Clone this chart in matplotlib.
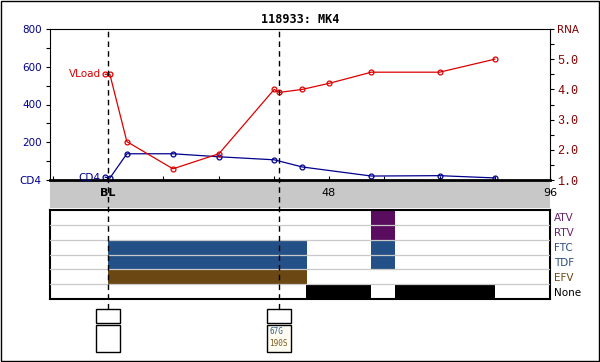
import matplotlib
import numpy as np

matplotlib.use("Agg")
import matplotlib.pyplot as plt
from matplotlib.patches import Rectangle

# viral load (log RNA) and CD4 counts by week
vl_x = [-0.6, 0.4, 4.1, 14.1, 24.1, 36.1, 37.2, 42.2, 48, 57.2, 72, 84]
vl_y = [4.5, 4.5, 2.27, 1.37, 1.87, 4.0, 3.9, 4.0, 4.2, 4.57, 4.57, 5.0]
cd4_x = [-0.6, 0.4, 4.1, 14.1, 24.1, 36.1, 42.2, 57.2, 72, 84]
cd4_y = [15, 10, 139, 139, 123, 107, 69, 21, 23, 11]

# treatment rows and periods (drug, start week, end week)
drugs = ["ATV", "RTV", "FTC", "TDF", "EFV", "None"]
drug_colors = ["#5a0c5e", "#5a0c5e", "#235087", "#235087", "#6a4713", "black"]
label_colors = ["#6b1f6b", "#6b1f6b", "#2d4d7d", "#2d4d7d", "#6a4713", "black"]
periods = [
    ("ATV", 57.2, 62.4),
    ("RTV", 57.2, 62.4),
    ("FTC", 0, 43.3),
    ("FTC", 57.2, 62.4),
    ("TDF", 0, 43.3),
    ("TDF", 57.2, 62.4),
    ("EFV", 0, 43.3),
    ("None", 43.0, 57.2),
    ("None", 62.4, 84),
]

# genotype events
event_x = [0, 37.2]
event_muts = [[], ["67G", "190S"]]
mut_colors = ["#2d5c8a", "#7a5a20"]

xlo, xhi = -12.6, 96
W, H = 600, 362


def rect(x0, y0, x1, y1):
    # pixel box (top-left origin) -> figure fraction
    return [x0 / W, 1 - y1 / H, (x1 - x0) / W, (y1 - y0) / H]


fig = plt.figure(figsize=(6, 3.62), dpi=100)
fig.patches.append(Rectangle((0.001, 0.002), 0.997, 0.996, transform=fig.transFigure,
                             fill=False, ec="black", lw=1))

# grey band behind x tick labels
band = fig.add_axes(rect(50, 180, 550, 208))
band.set_facecolor("#c8c8c8")
band.set_xlim(xlo, xhi)
band.set_xticks([])
band.set_yticks([])
for s in band.spines.values():
    s.set_visible(False)

# main chart
ax = fig.add_axes(rect(50, 29, 550, 180))
ax.set_xlim(xlo, xhi)
ax.set_ylim(0, 800)
ax.patch.set_alpha(0)
ax.plot(cd4_x, cd4_y, color="#00008c", lw=0.9, marker="o", ms=3.5, mfc="none", mew=0.9)
ax.set_yticks(np.arange(0, 801, 100))
ax.set_yticklabels(["CD4", "", "200", "", "400", "", "600", "", "800"])
ax.tick_params(axis="y", colors="black", labelcolor="#00008c", labelsize=7.5,
               length=3, width=0.8, direction="out", pad=3)
ax.set_xticks(np.arange(-12, 97, 12))
ax.set_xticklabels(["" if t not in (0, 48, 96) else ("BL" if t == 0 else str(t))
                    for t in range(-12, 97, 12)])
ax.tick_params(axis="x", direction="in", length=3, width=0.8, labelsize=8, pad=6)
for lab in ax.get_xticklabels():
    if lab.get_text() == "BL":
        lab.set_fontweight("bold")
ax.spines["bottom"].set_linewidth(2)
for k in ["top", "left", "right"]:
    ax.spines[k].set_linewidth(0.8)
ax.text(-1.6, 12, "CD4", color="#00008c", fontsize=7.5, ha="right", va="center")
ax.set_title("118933: MK4", fontsize=8.5, fontweight="bold",
             family="DejaVu Sans Mono", pad=4)

ax2 = ax.twinx()
ax2.set_xlim(xlo, xhi)
ax2.set_ylim(1, 6)
ax2.plot(vl_x, vl_y, color="#dd0000", lw=0.9, marker="o", ms=3.5, mfc="none", mew=0.9)
ax2.set_yticks(np.arange(1, 6.01, 0.5))
ax2.set_yticklabels(["1.0", "", "2.0", "", "3.0", "", "4.0", "", "5.0", "", "RNA"])
ax2.tick_params(axis="y", colors="black", labelcolor="#800000", labelsize=8.5,
                length=3, width=0.8, pad=2)
for lab in ax2.get_yticklabels():
    lab.set_family("Liberation Mono")
ax2.get_yticklabels()[-1].set_family("DejaVu Sans")
ax2.get_yticklabels()[-1].set_fontsize(7.5)
for s in ax2.spines.values():
    s.set_visible(False)
ax2.text(-1.6, 4.5, "VLoad", color="#dd0000", fontsize=7.5, ha="right", va="center")

# treatment panel
tx = fig.add_axes(rect(50, 210, 550, 299))
tx.set_xlim(xlo, xhi)
tx.set_ylim(len(drugs), 0)
for d, x0, x1 in periods:
    i = drugs.index(d)
    tx.barh(i + 0.5, x1 - x0, left=x0, height=1, color=drug_colors[i], lw=0)
for i in range(1, len(drugs)):
    tx.axhline(i, color="#c8c8c8", lw=0.9, zorder=3)
tx.set_xticks([])
tx.set_yticks(np.arange(len(drugs)) + 0.5)
tx.set_yticklabels(drugs, fontsize=7.5)
tx.yaxis.tick_right()
tx.tick_params(axis="y", length=0, pad=3)
for lab, c in zip(tx.get_yticklabels(), label_colors):
    lab.set_color(c)
for s in tx.spines.values():
    s.set_linewidth(1.5)

# genotype boxes under the event lines
bx = fig.add_axes(rect(50, 300, 550, 360))
bx.set_xlim(xlo, xhi)
bx.set_ylim(60, 0)
bx.axis("off")
half = 12 / 4.6
for x, muts in zip(event_x, event_muts):
    fc = "#fffdf2" if muts else "white"
    bx.add_patch(Rectangle((x - half, 9), 2 * half, 14, fill=False, ec="black", lw=1))
    bx.add_patch(Rectangle((x - half, 25), 2 * half, 27, fc=fc, ec="black", lw=1))
    for j, m in enumerate(muts):
        bx.text(x - half + 0.5, 31 + j * 13, m, color=mut_colors[j], fontsize=5.5,
                family="DejaVu Sans Mono", va="center", ha="left")

# dashed event lines running through all panels
ov = fig.add_axes(rect(50, 29, 550, 309))
ov.set_xlim(xlo, xhi)
ov.set_ylim(0, 1)
ov.axis("off")
for x in event_x:
    ov.axvline(x, color="black", lw=1, ls=(0, (4, 3)))

fig.savefig("out.png", dpi=100)
